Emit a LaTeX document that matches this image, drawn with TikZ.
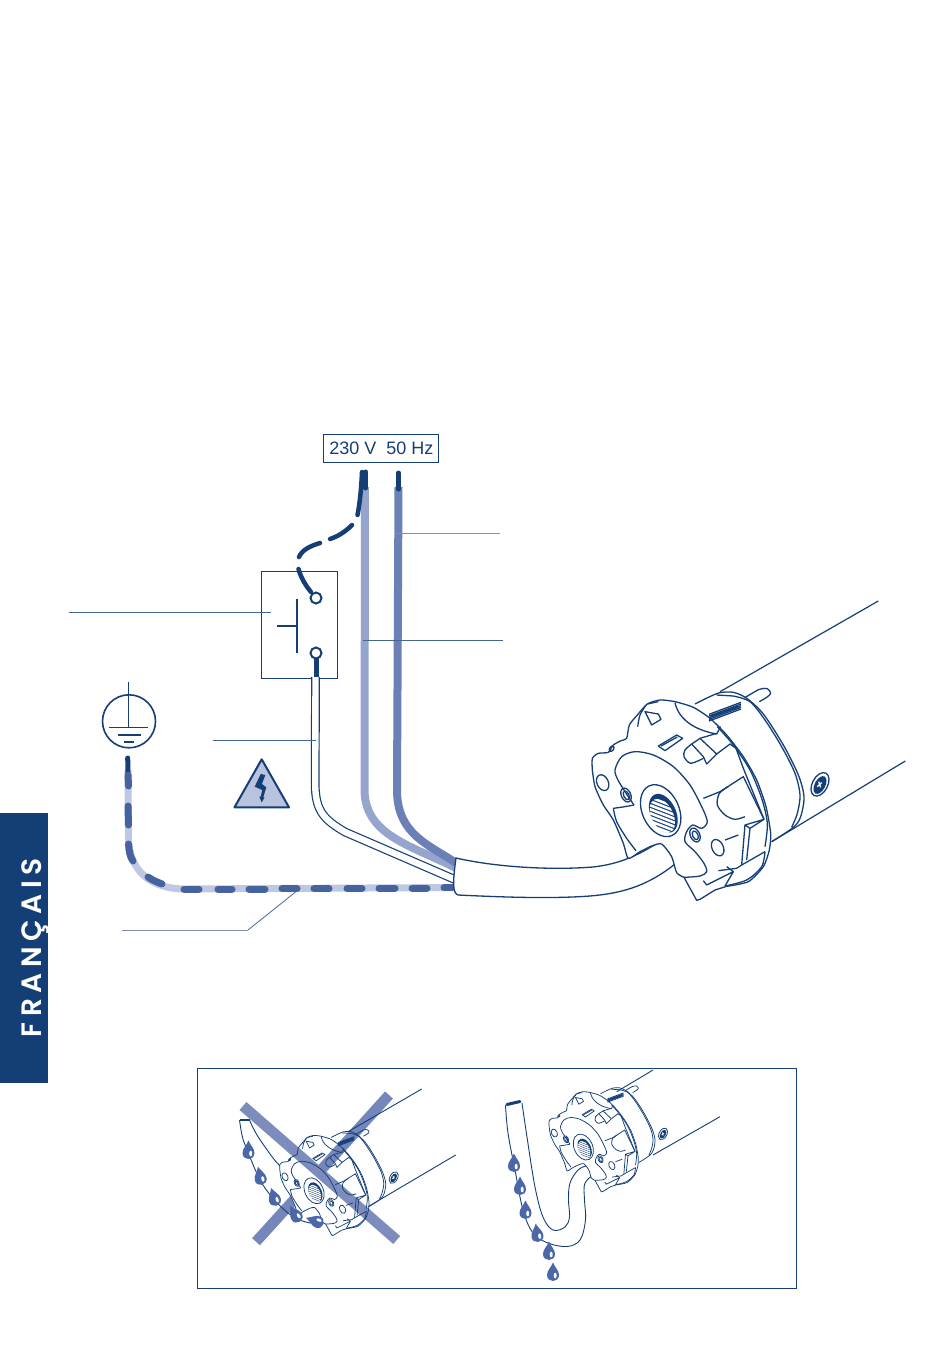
\documentclass[tikz,border=0pt]{standalone}
\usepackage{fontspec}
\setmainfont{Liberation Sans}
\newfontfamily\tabfont[LetterSpace=20,Ligatures=NoCommon,BoldFont={Poppins SemiBold}]{Poppins}
\definecolor{navy}{HTML}{143F76}
\definecolor{palewire}{HTML}{95A5CD}
\definecolor{midwire}{HTML}{6B80B6}
\definecolor{earthpale}{HTML}{BFC8E2}
\definecolor{earthdash}{HTML}{46639F}
\definecolor{crossblue}{HTML}{7587BA}
\definecolor{dropblue}{HTML}{4B67A9}
\definecolor{leadergrey}{HTML}{7F8FAF}
\definecolor{warnfill}{HTML}{B9C3DD}
\tikzset{
 thinline/.style={draw=navy,line width=1pt},
 leader/.style={draw=navy!80!white,line width=.8pt},
 leaderpale/.style={draw=leadergrey,line width=.9pt},
 tipwire/.style={draw=navy,line width=5pt,line cap=round},
 switchwire/.style={draw=navy,line width=4.5pt,line cap=round},
 earthdashseg/.style={draw=earthdash,line width=7pt,line cap=round},
 crossbar/.style={draw=crossblue,line width=10.5pt},
 symbolline/.style={draw=navy,line width=1.6pt},
}
% one teardrop: x, y, tilt
\newcommand\wdrop[3]{%
 \begin{scope}[shift={(#1,#2)},rotate=#3]
  \fill[dropblue] (0,-9.5) .. controls (-2,-4.5) and (-6,-1.5) .. (-6,3) .. controls (-6,7) and (-3,9) .. (0,9) .. controls (3,9) and (6,7) .. (6,3) .. controls (6,-1.5) and (2,-4.5) .. (0,-9.5) -- cycle;
  \fill[white] (2.2,3.5) ellipse [x radius=1.5,y radius=2.8];
 \end{scope}}
% the motor head, drawn in a local grid: x, y, unit, line width
\newcommand\headfill[3]{%
 \begin{scope}[shift={(#1,#2)},x=#3pt,y=-#3pt]
  \fill[white] plot[smooth cycle,tension=.45] coordinates {(97,505)(115,490)(145,487)(165,500)(225,485)(280,495)(340,530)(390,585)(425,650)(442,695)(440,845)(420,885)(410,931)(372,862)(350,848)(335,800)(305,762)(275,768)(240,785)(205,805)(190,760)(160,690)(130,645)(105,590)(97,540)};
 \end{scope}}
\newcommand\headfull[3]{%
 \begin{scope}[shift={(#1,#2)},x=#3pt,y=-#3pt]
  \fill[white] plot[smooth cycle,tension=.45] coordinates {(97,505)(115,490)(145,487)(160,465)(200,445)(208,405)(232,375)(262,342)(300,330)(345,335)(400,352)(450,385)(500,435)(550,500)(590,570)(618,650)(632,730)(628,780)(610,830)(565,875)(500,889)(465,900)(420,928)(410,931)(372,862)(350,848)(335,800)(305,762)(275,768)(240,785)(205,805)(190,760)(160,690)(130,645)(105,590)(97,540)};
 \end{scope}}
\newcommand\headlines[4]{%
 \begin{scope}[shift={(#1,#2)},x=#3pt,y=-#3pt,line width=#4pt,draw=navy,line join=round]
  % outer outline
  \draw plot[smooth,tension=.4] coordinates {(97,540)(97,505)(115,490)(145,487)(160,465)(183,452)(200,445)(208,405)(232,375)(262,342)(300,330)(345,335)(400,352)(450,385)(500,435)(550,500)(590,570)(618,650)(632,730)(628,780)(610,830)(565,875)(500,889)};
  \draw (500,889) -- (465,900) -- (420,928) -- (410,931) -- (372,862);
  \draw plot[smooth,tension=.4] coordinates {(372,862)(350,848)(335,800)(305,762)(275,768)(240,785)(205,805)(190,760)(160,690)(130,645)(105,590)(97,540)};
  % raised face
  \draw plot[smooth,tension=.5] coordinates {(222,645)(205,620)(175,572)(165,540)(185,500)(225,485)(280,495)(340,530)(390,585)(425,650)(442,695)(425,715)(398,705)(380,725)(375,755)(405,785)(432,820)(440,845)(420,858)(372,862)};
  \draw (222,645) -- (195,650) -- (160,655);
  \draw plot[smooth,tension=.5] coordinates {(160,655)(170,695)(200,745)(228,782)};
  % collar and small holes
  \draw (302,662) ellipse [x radius=55,y radius=82,rotate=25];
  \draw (128,578) ellipse [x radius=17,y radius=25,rotate=25];
  \draw (198,615) ellipse [x radius=14,y radius=22,rotate=25];
  \draw (199,616) ellipse [x radius=8,y radius=14,rotate=25];
  \draw (405,735) ellipse [x radius=14,y radius=22,rotate=25];
  \draw (406,736) ellipse [x radius=8,y radius=14,rotate=25];
  \draw (473,773) ellipse [x radius=17,y radius=26,rotate=25];
  \draw (155,476) ellipse [x radius=6,y radius=9,rotate=-35];
  % splined bore
  \fill[navy] (310,670) ellipse [x radius=38,y radius=62,rotate=25];
  \begin{scope}
   \clip (307,678) ellipse [x radius=33,y radius=55,rotate=25];
   \foreach \s in {590,602,...,760}{\draw[white,line width=#3pt*7.5] (250,\s) -- (380,\s+50);}
  \end{scope}
  % top of the flange
  \draw (262,342) -- (295,335);
  \draw (255,365) -- (295,372) -- (303,388) -- (275,405) -- cycle;
  \draw plot[smooth] coordinates {(258,345)(240,375)(233,410)};
  \draw (345,338) .. controls (355,385) and (400,420) .. (470,432) -- (482,410);
  \draw (295,468) -- (350,435) -- (368,445) -- (315,482) -- cycle;
  \draw (303,468) -- (352,441);
  % clip
  \draw (395,462) -- (420,445) -- (470,492) -- (440,522) -- (430,500) -- cycle;
  \draw (420,445) -- (470,430);
  \draw (470,492) -- (510,462) -- (528,475) -- (550,535) -- (612,688);
  \draw plot[smooth] coordinates {(395,462)(375,480)(372,500)(392,520)(430,505)};
  % right hand pocket
  \draw (430,625) -- (480,605) -- (550,560) -- (612,688) -- (570,715) -- (555,705) -- (612,688);
  \draw plot[smooth] coordinates {(505,590)(478,610)(472,645)(495,675)(525,688)(555,680)};
  \draw (495,750) -- (535,735);
  \draw (555,705) -- (545,825);
  \draw (570,715) -- (560,810);
  % lower wedge
  \draw (430,872) -- (440,885) -- (520,845) -- (495,888);
  \draw (475,842) -- (530,835) -- (545,825) -- (615,785);
  \draw (500,830) -- (520,845);
  \draw plot[smooth,tension=.5] coordinates {(615,785)(605,830)(560,870)(495,888)};
  % rim and motor ring
  \draw plot[smooth,tension=.5] coordinates {(472,410)(520,465)(570,540)(605,625)(622,700)(615,770)};
  \draw plot[smooth,tension=.5] coordinates {(405,342)(445,322)(480,308)(520,307)(560,325)(610,372)(670,465)(715,555)(732,620)(722,680)(700,712)(635,755)};
  \draw plot[smooth,tension=.5] coordinates {(520,318)(570,335)(615,390)(665,470)(705,550)(720,615)(712,670)(695,712)};
  \draw (470,315) -- (520,318);
  % ribs
  \foreach \d in {0,5,10,15,20}{\draw (447,373+\d) -- (543,337+\d);}
  \draw[line width=#4pt*1.6] (452,380) -- (535,350);
  % pin
  \draw plot[smooth,tension=.5] coordinates {(556,322)(598,298)(622,296)(632,310)(620,322)(598,335)};
  % screw
  \draw (780,583) ellipse [x radius=23,y radius=38,rotate=-28];
  \fill[navy] (780,585) ellipse [x radius=16,y radius=29,rotate=-28];
  \draw[white,line width=#4pt] (772,590) -- (785,578) (776,575) -- (782,592);
 \end{scope}}
\begin{document}
\begin{tikzpicture}[x=1pt,y=-1pt]
\useasboundingbox (0,0) rectangle (950,1355);
\fill[white] (0,0) rectangle (950,1355);
% side tab
\fill[navy] (0,813) rectangle (48,1083);
\node[rotate=90,anchor=base,inner sep=0,text=white,font=\tabfont\fontsize{28}{28}\selectfont\bfseries] (tablabel) at (41,947.5) {FRANÇAIS};
% voltage label
\node[draw=navy,line width=.9pt,text=navy,inner sep=0,minimum width=115pt,minimum height=28pt,font=\fontsize{18}{18}\selectfont] (volt) at (380.8,448.3) {\hspace{1pt}230 V\hspace{.28em} 50 Hz};
% switch
\node[draw=navy,line width=1pt,minimum width=76pt,minimum height=107pt,inner sep=0] (switchbox) at (299.3,624.8) {};
\draw[symbolline,line width=2pt] (297.3,599) -- (297.3,652.7);
\draw[symbolline,line width=2pt] (276.7,625.7) -- (297.3,625.7);
% earth symbol
\node[circle,draw=navy,line width=1.6pt,minimum size=53pt,inner sep=0] (earthsym) at (129,721.3) {};
\draw[symbolline] (128.3,681.7) -- (128.3,727.3);
\draw[symbolline] (109,727.3) -- (148.3,727.3);
\draw[symbolline] (118.3,734.7) -- (141,734.7);
\draw[symbolline] (124.3,741.7) -- (133.7,741.7);
% warning triangle
\draw[fill=warnfill,draw=navy,line width=2pt,line join=round] (261.7,759.3) -- (234.5,807.3) -- (289,807.3) -- cycle;
\fill[navy] (260.7,774) -- (265.3,775) -- (262,784) -- (266.3,787.3) -- (263.3,797.3) -- (264.7,797.3) -- (261.7,802.3) -- (259.3,796.7) -- (260.7,796.7) -- (262.3,790) -- (254.7,786.7) -- cycle;
% earth wire
\draw[earthpale,line width=7pt] (128,770) -- (128.5,838) .. controls (129,870) and (150,889) .. (185,889) -- (456,887.5);
\draw[tipwire] (127.7,758) -- (128,773);
\foreach \a/\b in {775/786,806/825}{\draw[earthdashseg] (128,\a) -- (128.5,\b);}
\draw[earthdashseg] (128.5,844) .. controls (129,851) and (130,857) .. (133,861);
\draw[earthdashseg] (148,877) .. controls (152,880) and (157,882) .. (162,884);
\foreach \a/\b/\y in {184/199/889,218/232/889,249/265/889,282/297/888.8,314/329/888.6,347/362/888.4,379/395/888.2,412/427/888,444/452/887.8}{\draw[earthdashseg] (\a,\y) -- (\b,\y);}
% pale phase wire
\draw[palewire,line width=8pt] (365,487) -- (364.5,790) .. controls (365,835) and (410,845) .. (456,868);
\draw[midwire,line width=8pt] (398.5,487) -- (397,790) .. controls (397,835) and (430,845) .. (456,863);
\draw[tipwire] (398.5,473) -- (398.5,489);
\draw[draw=navy,line width=5pt,line cap=round] (365.5,472) -- (365.5,488);
\draw[switchwire] (362,472) .. controls (361.5,485) and (360,503) .. (357.5,515);
\draw[switchwire] (352,525) .. controls (346,531) and (339,536) .. (330,539);
\draw[switchwire] (320,543) .. controls (310,546) and (302,550) .. (299,557);
\draw[switchwire] (298.5,569) .. controls (301,578) and (306,586) .. (311,592);
\draw[tipwire,line cap=butt] (316,657) -- (316,677);
\node[circle,draw=navy,line width=2pt,fill=white,minimum size=11pt,inner sep=0] (topstud) at (316,598) {};
\node[circle,draw=navy,line width=2pt,fill=white,minimum size=11pt,inner sep=0] (botstud) at (316,653) {};
% double thin wire
\draw[draw=navy,double=white,line width=1.2pt,double distance=6.4pt] (315.5,677) -- (315.2,785) .. controls (315.5,812) and (325,820) .. (345,832) -- (456,880);
% sheath
\draw[fill=white,draw=navy,line width=1.3pt] (456,858) .. controls (500,868) and (555,870) .. (593,867) .. controls (620,864) and (640,855) .. (665,838) -- (680,860) .. controls (650,885) and (625,893) .. (590,896) .. controls (550,899) and (500,897) .. (458,895) .. controls (452,893) and (453,880) .. (456,858) -- cycle;
% large motor
\draw[thinline,line width=1.2pt] (720,691.7) -- (878.3,601);
\draw[thinline,line width=1.2pt] (771.7,841.7) -- (905.3,761);
\headfull{560}{590}{.33333}
\headlines{560}{590}{.33333}{1.3}
% leader lines
\draw[leaderpale] (395,533) -- (500,533);
\draw[leader] (363,640) -- (503,640);
\draw[leader] (69,612) -- (271,612);
\draw[leader] (213,740) -- (316,740);
\draw[leaderpale] (122,930) -- (248,930);
\draw[leader] (248,930) -- (298,890);
% inset frame
\node[draw=navy,line width=1pt,minimum width=599pt,minimum height=220pt,inner sep=0] (inset) at (496.5,1178) {};
% inset, left motor
\draw[crossbar] (389,1095) -- (256,1241.7);
\draw[thinline,line width=.9pt] (348,1131.7) -- (421.7,1089);
\draw[thinline,line width=.9pt] (368,1206.7) -- (455.7,1155);
\draw[thinline,line width=.9pt] plot[smooth,tension=.6] coordinates {(239.5,1120)(242,1135)(246,1147)(263,1185)(288,1213)(310,1223)(323,1220)};
\draw[thinline,line width=.9pt] plot[smooth,tension=.6] coordinates {(249.5,1120)(257,1135)(273,1158)(285,1173)(293,1197)};
\draw[navy,line width=2pt] (239.5,1120) -- (249.5,1120);
\headfill{263.7}{1080.4}{.16667}
\draw[crossbar,opacity=.95] (243,1106) -- (396.7,1240);
\headlines{263.7}{1080.4}{.16667}{.75}
\wdrop{248.5}{1150}{0}
\wdrop{260}{1176}{12}
\wdrop{274}{1197}{18}
\wdrop{295}{1214}{32}
\wdrop{315}{1221}{70}
% inset, right motor
\draw[thinline,line width=.9pt] (616.7,1091.7) -- (653,1070);
\draw[thinline,line width=.9pt] (653,1155) -- (720,1116.7);
\draw[thinline,line width=.9pt] plot[smooth,tension=.6] coordinates {(505.5,1105)(508,1133)(515,1170)(523,1210)(533,1233)(548,1243)(567,1246.5)(580,1240)(585.5,1220)(584.5,1200)(585,1183)(596,1173)};
\draw[thinline,line width=.9pt] plot[smooth,tension=.6] coordinates {(522,1103)(527,1137)(535,1187)(543,1217)(553,1230)(565,1227)(569.5,1217)(568.5,1200)(570,1183)(578,1170)(586,1166)};
\draw[navy,line width=3pt,line cap=round] (507,1104.5) -- (520,1101.5);
\headfull{533}{1036.7}{.16667}
\headlines{533}{1036.7}{.16667}{.75}
\wdrop{514}{1163}{0}
\wdrop{520}{1186}{0}
\wdrop{525.5}{1210}{0}
\wdrop{537}{1233}{8}
\wdrop{549}{1251}{0}
\wdrop{553}{1272}{0}
\end{tikzpicture}
\end{document}
